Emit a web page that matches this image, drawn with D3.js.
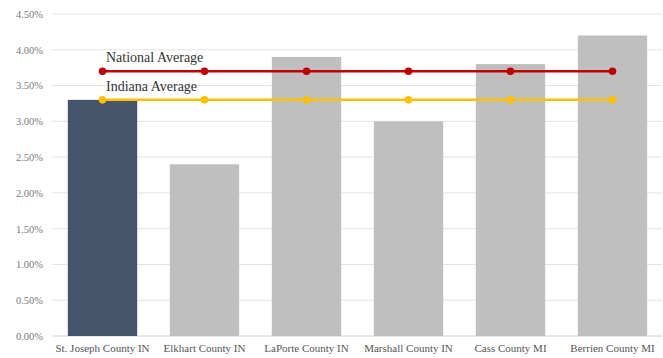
<!DOCTYPE html>
<html><head><meta charset="utf-8">
<script src="https://cdn.jsdelivr.net/npm/d3@7"></script>
<style>body{margin:0;background:#fff;} svg{display:block;} svg text{font-family:"Liberation Serif","Times New Roman",serif !important;}</style>
</head><body>
<svg id="c" width="663" height="358"></svg>
<script>
const categories = ["St. Joseph County IN","Elkhart County IN","LaPorte County IN","Marshall County IN","Cass County MI","Berrien County MI"];
const values = [3.3, 2.4, 3.9, 3.0, 3.8, 4.2];
const nationalAvg = [3.7, 3.7, 3.7, 3.7, 3.7, 3.7];
const indianaAvg = [3.3, 3.3, 3.3, 3.3, 3.3, 3.3];
const yTicks = [0, 0.5, 1.0, 1.5, 2.0, 2.5, 3.0, 3.5, 4.0, 4.5];
const lineLabels = ["National Average", "Indiana Average"];

const svg = d3.select("#c");
const x = d3.scaleBand().domain(categories).range([51.5, 663.5]).paddingInner(0.32).paddingOuter(0.16);
const y = d3.scaleLinear().domain([0, 4.5]).range([336, 14]);

svg.append("g").selectAll("line").data(yTicks).join("line")
  .attr("x1", 52).attr("x2", 662)
  .attr("y1", d => y(d)).attr("y2", d => y(d))
  .attr("stroke", d => d === 0 ? "#d0d0d0" : "#e3e3e3").attr("stroke-width", 1);

const ya = svg.append("g").attr("transform", "translate(43,0)")
  .call(d3.axisLeft(y).tickValues(yTicks).tickFormat(d => d.toFixed(2) + "%").tickSize(0).tickPadding(0));
ya.select(".domain").remove();
ya.selectAll("text").attr("font-size", 10.5).attr("fill", "#7a7a7a");

svg.append("g").selectAll("rect").data(values).join("rect")
  .attr("x", (d, i) => x(categories[i]))
  .attr("width", x.bandwidth())
  .attr("y", d => y(d))
  .attr("height", d => y(0) - y(d))
  .attr("fill", (d, i) => i === 0 ? "#44546A" : "#BFBFBF");

const xa = svg.append("g").attr("transform", "translate(0,344)")
  .call(d3.axisBottom(x).tickSize(0).tickPadding(0));
xa.select(".domain").remove();
xa.selectAll("text").attr("font-size", 11).attr("fill", "#555").attr("dy", "0.71em");

const cx = c => x(c) + x.bandwidth() / 2;
const series = [
  {vals: nationalAvg, color: "#C00000", label: lineLabels[0]},
  {vals: indianaAvg, color: "#FFC000", label: lineLabels[1]}
];
const line = d3.line().x((d, i) => cx(categories[i])).y(d => y(d));
series.forEach(s => {
  svg.append("path").datum(s.vals).attr("d", line)
    .attr("fill", "none").attr("stroke", s.color).attr("stroke-width", 2.5);
  svg.append("g").selectAll("circle").data(s.vals).join("circle")
    .attr("cx", (d, i) => cx(categories[i])).attr("cy", d => y(d)).attr("r", 3.8)
    .attr("fill", s.color);
  svg.append("text").attr("x", cx(categories[0]) + 3.5).attr("y", y(s.vals[0]) - 9)
    .attr("font-size", 14).attr("fill", "#333").text(s.label);
});
</script>
</body></html>
